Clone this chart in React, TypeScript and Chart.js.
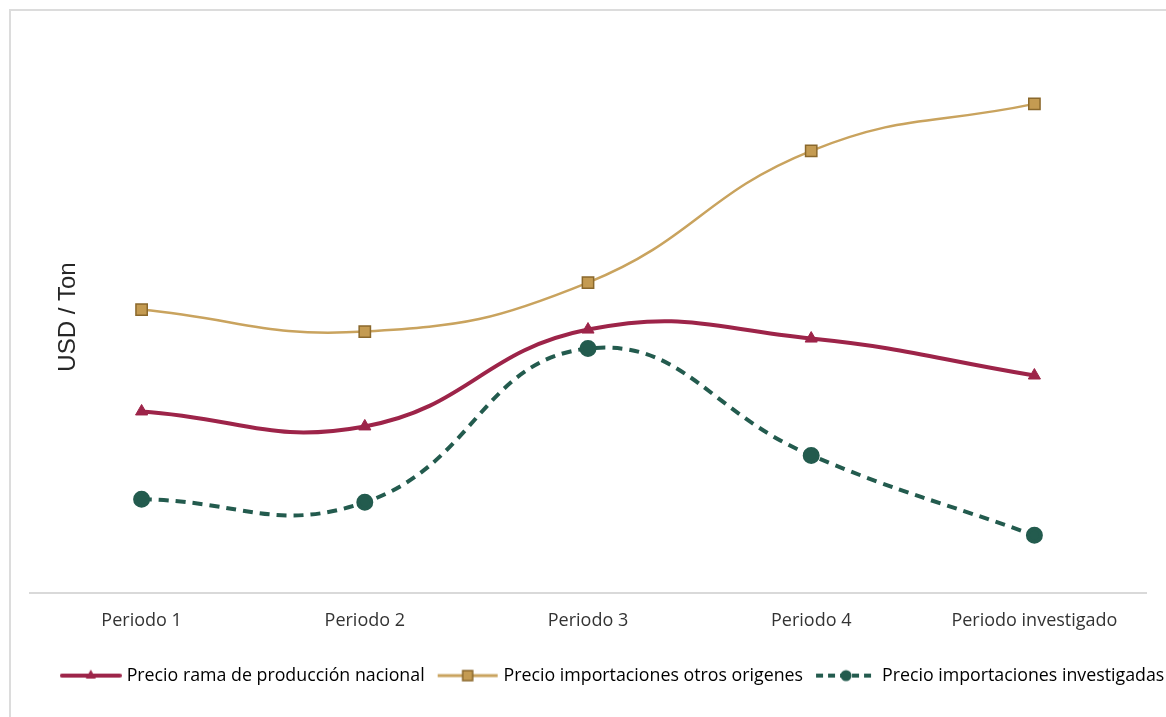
import React, { useEffect, useRef } from "react";
import { Chart, registerables } from "chart.js";

Chart.register(...registerables);

const categories = ["Periodo 1", "Periodo 2", "Periodo 3", "Periodo 4", "Periodo investigado"];
const precioRamaNacional = [182, 167, 264, 255, 218];
const precioOtrosOrigenes = [284, 262, 311, 443, 490];
const precioInvestigadas = [94, 91, 245, 138, 58];
const seriesNames = [
  "Precio rama de producción nacional",
  "Precio importaciones otros origenes",
  "Precio importaciones investigadas",
];
const yTitle = "USD / Ton";

const RED = "#9D2449";
const GOLD_LINE = "#C9A35E";
const GOLD_FILL = "#C49B52";
const GOLD_BORDER = "#8A682C";
const GREEN = "#235B4E";
const FONT = "'Open Sans', Lato, sans-serif";

function legendImage(kind: "tri" | "sq" | "dot"): HTMLCanvasElement {
  const c = document.createElement("canvas");
  const W = 62;
  c.width = W;
  c.height = 16;
  const ctx = c.getContext("2d")!;
  const cy = 8;
  const mid = W / 2;
  if (kind === "tri") {
    ctx.strokeStyle = RED;
    ctx.lineWidth = 4;
    ctx.lineCap = "round";
    ctx.beginPath();
    ctx.moveTo(2, cy);
    ctx.lineTo(W - 2, cy);
    ctx.stroke();
    ctx.fillStyle = RED;
    ctx.beginPath();
    ctx.moveTo(mid, cy - 6);
    ctx.lineTo(mid + 5, cy + 3);
    ctx.lineTo(mid - 5, cy + 3);
    ctx.closePath();
    ctx.fill();
  } else if (kind === "sq") {
    ctx.strokeStyle = GOLD_LINE;
    ctx.lineWidth = 3;
    ctx.beginPath();
    ctx.moveTo(1, cy);
    ctx.lineTo(W - 1, cy);
    ctx.stroke();
    ctx.fillStyle = GOLD_FILL;
    ctx.strokeStyle = GOLD_BORDER;
    ctx.lineWidth = 1.5;
    ctx.fillRect(mid - 5, cy - 5, 10, 10);
    ctx.strokeRect(mid - 5, cy - 5, 10, 10);
  } else {
    ctx.strokeStyle = GREEN;
    ctx.lineWidth = 4;
    ctx.setLineDash([7, 5]);
    ctx.beginPath();
    ctx.moveTo(1, cy);
    ctx.lineTo(W - 1, cy);
    ctx.stroke();
    ctx.setLineDash([]);
    ctx.fillStyle = GREEN;
    ctx.beginPath();
    ctx.arc(mid, cy, 5.5, 0, Math.PI * 2);
    ctx.fill();
  }
  return c;
}

const yTitlePlugin = {
  id: "yTitleText",
  afterDraw(chart: any) {
    const ctx = chart.ctx;
    ctx.save();
    ctx.translate(68, 317);
    ctx.rotate(-Math.PI / 2);
    ctx.font = '24px "Liberation Sans", Arial, sans-serif';
    ctx.fillStyle = "#262626";
    ctx.textAlign = "center";
    ctx.textBaseline = "middle";
    ctx.fillText(yTitle, 0, 0);
    ctx.restore();
  },
};

const LEGEND_SHIFT = 31;
const legendShiftPlugin = {
  id: "legendShift",
  afterLayout(chart: any) {
    if (chart.legend) {
      chart.legend.left += LEGEND_SHIFT;
      chart.legend.right += LEGEND_SHIFT;
    }
  },
};

export default function App() {
  const ref = useRef<HTMLCanvasElement>(null);
  useEffect(() => {
    if (!ref.current) return;
    const images = [legendImage("tri"), legendImage("sq"), legendImage("dot")];
    const chart = new Chart(ref.current, {
      type: "line",
      data: {
        labels: categories,
        datasets: [
          {
            label: seriesNames[0],
            data: precioRamaNacional,
            borderColor: RED,
            backgroundColor: RED,
            borderWidth: 4,
            pointStyle: "triangle",
            pointRadius: 7,
            pointBackgroundColor: RED,
            pointBorderColor: RED,
            pointBorderWidth: 1,
            tension: 0.45,
          },
          {
            label: seriesNames[1],
            data: precioOtrosOrigenes,
            borderColor: GOLD_LINE,
            backgroundColor: GOLD_FILL,
            borderWidth: 2.5,
            pointStyle: "rect",
            pointRadius: 8,
            pointBackgroundColor: GOLD_FILL,
            pointBorderColor: GOLD_BORDER,
            pointBorderWidth: 1.5,
            tension: 0.45,
          },
          {
            label: seriesNames[2],
            data: precioInvestigadas,
            borderColor: GREEN,
            backgroundColor: GREEN,
            borderWidth: 4,
            borderDash: [10, 7],
            pointStyle: "circle",
            pointRadius: 6.5,
            pointBackgroundColor: GREEN,
            pointBorderColor: GREEN,
            tension: 0.45,
          },
        ],
      },
      options: {
        animation: false,
        responsive: false,
        maintainAspectRatio: false,
        layout: { padding: { top: 20, bottom: 22.5, left: 0, right: 0 } },
        scales: {
          x: {
            offset: true,
            grid: { display: false, drawTicks: false, offset: true },
            border: { display: true, color: "#d9d9d9", width: 2 },
            ticks: {
              padding: 17,
              color: "#333333",
              font: { family: FONT, size: 18 },
              maxRotation: 0,
              autoSkip: false,
            },
            afterFit: (scale: any) => {
              scale.height = 57.5;
            },
          },
          y: {
            min: 0,
            max: 574,
            grid: { display: false },
            border: { display: false },
            ticks: { display: false },
            afterFit: (scale: any) => {
              scale.width = 30;
            },
          },
          y2: {
            type: "linear",
            position: "right",
            grid: { display: false },
            border: { display: false },
            ticks: { display: false },
            afterFit: (scale: any) => {
              scale.width = 20;
            },
          },
        },
        plugins: {
          tooltip: { enabled: false },
          legend: {
            position: "bottom",
            labels: {
              usePointStyle: true,
              pointStyleWidth: 54,
              padding: 16,
              color: "#262626",
              font: { family: FONT, size: 17.8 },
              generateLabels: () =>
                seriesNames.map((name, i) => ({
                  text: name,
                  pointStyle: images[i] as any,
                  fillStyle: "transparent",
                  strokeStyle: "transparent",
                  lineWidth: 0,
                  hidden: false,
                  datasetIndex: i,
                })),
            },
          },
        },
      },
      plugins: [yTitlePlugin, legendShiftPlugin],
    });
    return () => chart.destroy();
  }, []);

  return (
    <div
      style={{
        position: "fixed",
        left: 0,
        top: 0,
        width: 1166,
        height: 717,
        overflow: "hidden",
        background: "#ffffff",
      }}
    >
      <div
        style={{
          position: "absolute",
          left: 9,
          top: 9,
          width: 1300,
          height: 900,
          border: "2px solid #dcdcdc",
        }}
      />
      <canvas
        ref={ref}
        width={1166}
        height={717}
        style={{ position: "absolute", left: 0, top: 0 }}
      />
    </div>
  );
}
